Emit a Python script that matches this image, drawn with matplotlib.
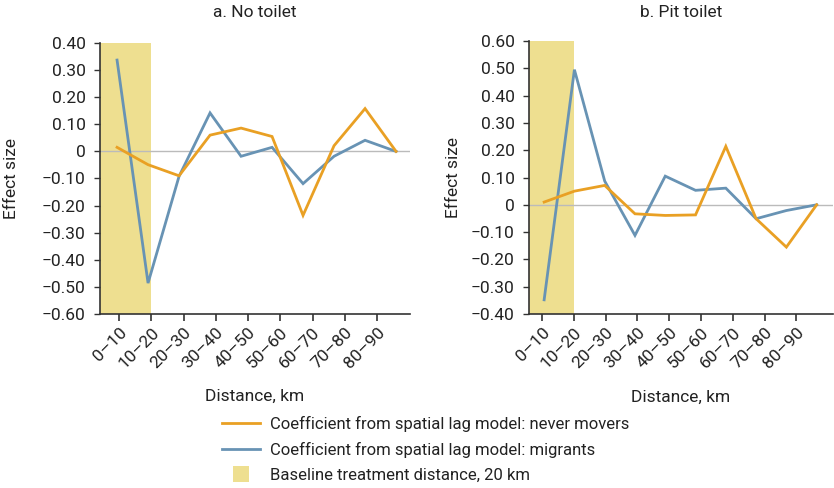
import numpy as np
import matplotlib
matplotlib.use("Agg")
import matplotlib.pyplot as plt
from matplotlib.lines import Line2D
import matplotlib.transforms as mtransforms

# --- data -------------------------------------------------------------
distance_bins = ["0–10", "10–20", "20–30", "30–40", "40–50",
                 "50–60", "60–70", "70–80", "80–90"]

no_toilet_never_movers = [0.015, -0.049, -0.090, 0.060, 0.086,
                          0.055, -0.236, 0.021, 0.158, 0.0]
no_toilet_migrants = [0.337, -0.486, -0.092, 0.142, -0.018,
                      0.015, -0.119, -0.018, 0.041, 0.0]

pit_toilet_never_movers = [0.010, 0.050, 0.071, -0.033, -0.039,
                           -0.037, 0.214, -0.051, -0.155, 0.0]
pit_toilet_migrants = [-0.348, 0.495, 0.087, -0.112, 0.105,
                       0.053, 0.061, -0.051, -0.021, 0.0]

no_toilet_yticks = [0.40, 0.30, 0.20, 0.10, 0, -0.10, -0.20, -0.30,
                    -0.40, -0.50, -0.60]
pit_toilet_yticks = [0.60, 0.50, 0.40, 0.30, 0.20, 0.10, 0, -0.10,
                     -0.20, -0.30, -0.40]

# --- style ------------------------------------------------------------
plt.rcParams["font.family"] = ["Roboto", "DejaVu Sans"]

ORANGE = "#E9A024"
BLUE = "#6893B4"
SHADE = "#EEDF90"
TEXT = "#222222"
FS = 12.5


def fmt(v):
    if v == 0:
        return "0"
    return f"{v:.2f}".replace("-", "\u2212")


def draw_panel(ax, never, migr, yticks, title, tick0, tick_step, xmin, xmax,
               ylabel_x, title_y):
    x = np.arange(len(never))
    tick_pos = tick0 + tick_step * np.arange(len(distance_bins))
    ax.axvspan(xmin, tick_pos[1], color=SHADE, lw=0, zorder=0)
    ax.axhline(0, color="#BBBBBB", lw=1.0, zorder=1)
    ax.plot(x, migr, color=BLUE, lw=2.0, zorder=3, solid_joinstyle="miter")
    ax.plot(x, never, color=ORANGE, lw=2.0, zorder=4, solid_joinstyle="miter")
    ax.set_xlim(xmin, xmax)
    ax.set_ylim(min(yticks), max(yticks))
    ax.set_yticks(yticks)
    ax.set_yticklabels([fmt(v) for v in yticks], fontsize=FS, color=TEXT)
    ax.set_xticks(tick_pos)
    labels = ax.set_xticklabels(distance_bins, fontsize=FS, color=TEXT,
                                rotation=45, ha="right", va="top",
                                rotation_mode="anchor")
    offset = mtransforms.ScaledTranslation(6 / 100, -7 / 100,
                                           ax.figure.dpi_scale_trans)
    for lab in labels:
        lab.set_transform(lab.get_transform() + offset)
    for s in ("top", "right"):
        ax.spines[s].set_visible(False)
    for s in ("left", "bottom"):
        ax.spines[s].set_color("#333333")
        ax.spines[s].set_linewidth(1.2)
    ax.tick_params(axis="x", direction="out", length=5, width=1.2,
                   color="#333333", pad=3)
    ax.tick_params(axis="y", direction="out", length=4.3, width=1.0,
                   color="#333333", pad=6)
    ax.set_title(title, fontsize=FS, color=TEXT, y=title_y, pad=0,
                 va="center")
    ax.set_ylabel("Effect size", fontsize=FS, color=TEXT, va="center")
    ax.yaxis.set_label_coords(ylabel_x, 0.5)
    ax.set_xlabel("Distance, km", fontsize=FS, color=TEXT, va="center")
    ax.xaxis.set_label_coords(0.5, -0.305)


fig = plt.figure(figsize=(8.34, 4.88), dpi=100)
ax1 = fig.add_axes([100 / 834, 1 - 314 / 488, 310 / 834, 271 / 488])
ax2 = fig.add_axes([529 / 834, 1 - 314 / 488, 304 / 834, 273 / 488])

draw_panel(ax1, no_toilet_never_movers, no_toilet_migrants, no_toilet_yticks,
           "a. No toilet", 0.065, 1.04, -0.55, 9.45, -0.287, 1.113)
draw_panel(ax2, pit_toilet_never_movers, pit_toilet_migrants, pit_toilet_yticks,
           "b. Pit toilet", -0.07, 1.05, -0.5, 9.54, -0.247, 1.104)

handles = [
    Line2D([], [], color=ORANGE, lw=2.0),
    Line2D([], [], color=BLUE, lw=2.0),
    Line2D([], [], color=SHADE, marker="s", linestyle="none",
           markersize=11.5, markeredgewidth=0),
]
names = ["Coefficient from spatial lag model: never movers",
         "Coefficient from spatial lag model: migrants",
         "Baseline treatment distance, 20 km"]
fig.legend(handles, names, loc="upper left", numpoints=1,
           bbox_to_anchor=(222 / 834, 1 - 416 / 488), frameon=False,
           fontsize=12, labelcolor=TEXT, handlelength=2.25,
           handletextpad=0.6, labelspacing=0.6, borderpad=0,
           borderaxespad=0)

fig.savefig("out.png", dpi=100)
